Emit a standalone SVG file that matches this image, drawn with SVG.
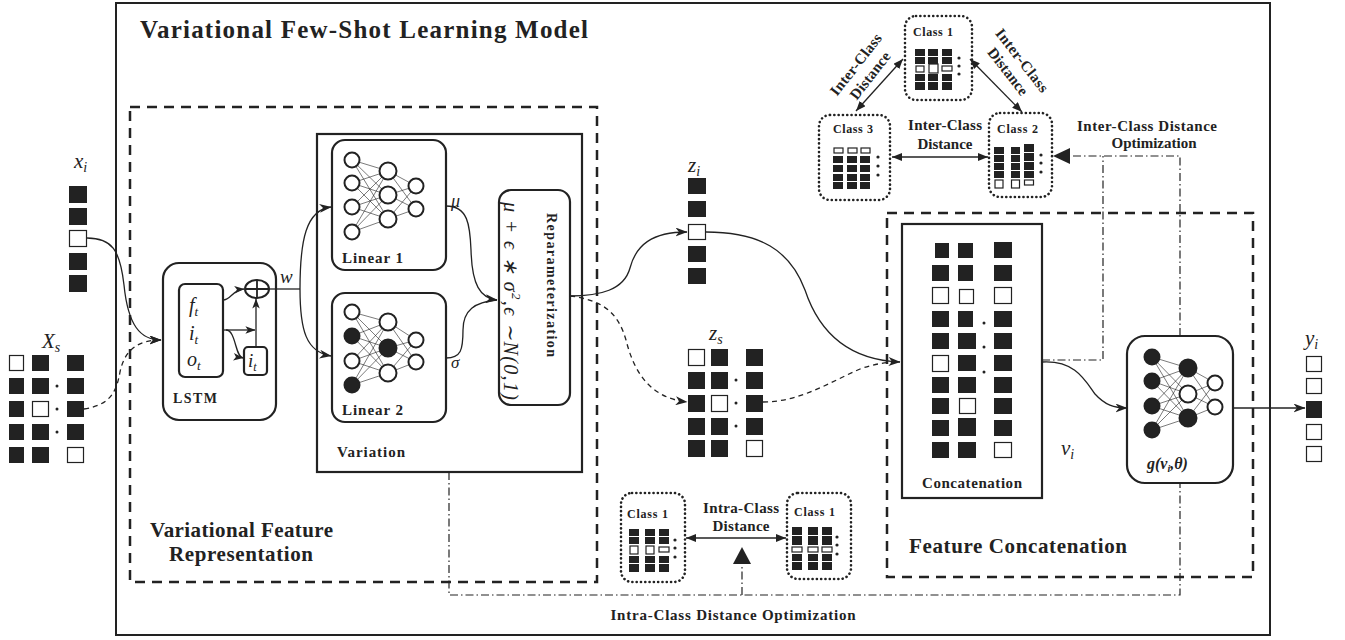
<svg xmlns="http://www.w3.org/2000/svg" width="1345" height="640" viewBox="0 0 1345 640">
<style>
.b{fill:#222}
.w{fill:#fff;stroke:#222;stroke-width:1.2}
.t{font-family:"Liberation Serif",serif;font-weight:bold;fill:#222}
.m{font-family:"Liberation Serif",serif;font-style:italic;fill:#222}
.ln{fill:none;stroke:#222;stroke-width:1.3}
.dash{fill:none;stroke:#222;stroke-width:1.3;stroke-dasharray:5 4}
.dd{fill:none;stroke:#222;stroke-width:1.2;stroke-dasharray:8 3 1.5 3}
.box{fill:#fff;stroke:#222;stroke-width:2.2}
.grp{fill:none;stroke:#222;stroke-width:2.5;stroke-dasharray:10 7}
.dot{fill:none;stroke:#222;stroke-width:2.6;stroke-dasharray:0.1 4.2;stroke-linecap:round}
.nn{fill:none;stroke:#222;stroke-width:0.6}
.no{fill:#fff;stroke:#222;stroke-width:2}
.nf{fill:#222;stroke:#222;stroke-width:2}
</style>
<defs>
<marker id="a" viewBox="0 0 12 9" refX="11.5" refY="4.5" markerWidth="12" markerHeight="9" markerUnits="userSpaceOnUse" orient="auto"><path d="M0 0L12 4.5L0 9L3.5 4.5z" fill="#222"/></marker>
<marker id="as" viewBox="0 0 12 9" refX="11.5" refY="4.5" markerWidth="10" markerHeight="8" markerUnits="userSpaceOnUse" orient="auto"><path d="M0 0L12 4.5L0 9L3 4.5z" fill="#222"/></marker>
<marker id="d" viewBox="0 0 10 8" refX="10" refY="4" markerWidth="10" markerHeight="8" markerUnits="userSpaceOnUse" orient="auto-start-reverse"><path d="M0 0L10 4L0 8z" fill="#222"/></marker>
</defs>
<rect width="1345" height="640" fill="#fff"/>

<g id="outer">
<rect x="116" y="3" width="1154" height="632" fill="none" stroke="#222" stroke-width="2"/>
<text class="t" x="140" y="38" font-size="25" textLength="448" lengthAdjust="spacing">Variational Few-Shot Learning Model</text>
</g>

<g id="vfr">
<rect class="grp" x="130" y="107" width="467" height="475"/>
<text class="t" x="150" y="537" font-size="21" textLength="183" lengthAdjust="spacing">Variational Feature</text>
<text class="t" x="169" y="561" font-size="21" textLength="144" lengthAdjust="spacing">Representation</text>
</g>

<g id="featconcat">
<rect class="grp" x="887" y="213" width="366" height="364"/>
<text class="t" x="909" y="553" font-size="21" textLength="218" lengthAdjust="spacing">Feature Concatenation</text>
</g>

<g id="variation">
<rect class="box" x="317" y="134" width="265" height="338"/>
<text class="t" x="337" y="457" font-size="15" textLength="68" lengthAdjust="spacing">Variation</text>
</g>

<g id="linear1">
<rect class="box" x="332" y="140" width="114" height="130" rx="13"/>
<path class="nn" d="M352 160L388 171M352 160L388 195M352 160L388 219M352 183L388 171M352 183L388 195M352 183L388 219M352 207L388 171M352 207L388 195M352 207L388 219M352 232L388 171M352 232L388 195M352 232L388 219M388 171L416 186M388 171L416 209M388 195L416 186M388 195L416 209M388 219L416 186M388 219L416 209"/>
<circle class="no" cx="352" cy="160" r="7.5"/><circle class="no" cx="352" cy="183" r="7.5"/><circle class="no" cx="352" cy="207" r="7.5"/><circle class="no" cx="352" cy="232" r="7.5"/>
<circle class="no" cx="388" cy="171" r="8.5"/><circle class="no" cx="388" cy="195" r="8.5"/><circle class="no" cx="388" cy="219" r="8.5"/>
<circle class="no" cx="416" cy="186" r="7.5"/><circle class="no" cx="416" cy="209" r="7.5"/>
<text class="t" x="342" y="263" font-size="15" textLength="61" lengthAdjust="spacing">Linear 1</text>
</g>

<g id="linear2">
<rect class="box" x="332" y="293" width="114" height="129" rx="13"/>
<path class="nn" d="M352 312L388 322M352 312L388 348M352 312L388 373M352 336L388 322M352 336L388 348M352 336L388 373M352 361L388 322M352 361L388 348M352 361L388 373M352 385L388 322M352 385L388 348M352 385L388 373M388 322L416 340M388 322L416 362M388 348L416 340M388 348L416 362M388 373L416 340M388 373L416 362"/>
<circle class="no" cx="352" cy="312" r="7.5"/><circle class="nf" cx="352" cy="336" r="7.5"/><circle class="no" cx="352" cy="361" r="7.5"/><circle class="nf" cx="352" cy="385" r="7.5"/>
<circle class="no" cx="388" cy="322" r="8.5"/><circle class="nf" cx="388" cy="348" r="8.5"/><circle class="no" cx="388" cy="373" r="8.5"/>
<circle class="no" cx="416" cy="340" r="7.5"/><circle class="no" cx="416" cy="362" r="7.5"/>
<text class="t" x="342" y="415" font-size="15" textLength="61" lengthAdjust="spacing">Linear 2</text>
</g>

<g id="reparam">
<rect class="box" x="499" y="190" width="71" height="215" rx="12"/>
<text class="t" transform="translate(547,213) rotate(90)" font-size="14" textLength="144" lengthAdjust="spacing">Reparameterization</text>
<text class="m" transform="translate(504,202) rotate(90)" font-size="20" font-style="normal" textLength="198" lengthAdjust="spacing"><tspan font-style="italic">μ</tspan> + <tspan font-style="italic">ϵ</tspan> ∗ <tspan font-style="italic">σ</tspan><tspan font-size="13" dy="-8">2</tspan><tspan dy="8">,</tspan><tspan font-style="italic">ϵ</tspan> ∼N(0,1)</text>
</g>

<g id="lstm">
<rect class="box" x="163" y="263" width="113" height="157" rx="16"/>
<rect class="box" x="179" y="284" width="44" height="93" rx="6"/>
<text class="m" x="189" y="312" font-size="20">f<tspan font-size="13" dy="4">t</tspan></text>
<text class="m" x="189" y="340" font-size="20">i<tspan font-size="13" dy="4">t</tspan></text>
<text class="m" x="187" y="366" font-size="20">o<tspan font-size="13" dy="4">t</tspan></text>
<ellipse cx="257" cy="289" rx="12" ry="9" fill="#fff" stroke="#222" stroke-width="2"/>
<path d="M245 289L269 289M257 280L257 298" stroke="#222" stroke-width="1.8"/>
<rect class="box" x="244" y="347" width="23" height="28" rx="4"/>
<text class="m" x="248" y="367" font-size="19">i<tspan font-size="12" dy="4">t</tspan></text>
<text class="t" x="173" y="403" font-size="14" textLength="44" lengthAdjust="spacing">LSTM</text>
</g>

<g id="xi">
<text class="m" x="74" y="168" font-size="21">x<tspan font-size="14" dy="4">i</tspan></text>
<rect class="b" x="69" y="186" width="18" height="17"/>
<rect class="b" x="69" y="208" width="18" height="17"/>
<rect class="w" x="69.5" y="230.5" width="17" height="16"/>
<rect class="b" x="69" y="253" width="18" height="17"/>
<rect class="b" x="69" y="275" width="18" height="17"/>
</g>

<g id="xs">
<text class="m" x="42" y="348" font-size="21">X<tspan font-size="14" dy="4">s</tspan></text>
<rect class="w" x="9.5" y="355.5" width="14" height="15"/><rect class="b" x="32" y="355" width="17" height="16"/><rect class="b" x="67" y="355" width="17" height="16"/>
<rect class="b" x="9" y="378" width="15" height="16"/><rect class="b" x="32" y="378" width="17" height="16"/><rect class="b" x="67" y="378" width="17" height="16"/>
<rect class="b" x="9" y="401" width="15" height="16"/><rect class="w" x="32.5" y="401.5" width="16" height="15"/><rect class="b" x="67" y="401" width="17" height="16"/>
<rect class="b" x="9" y="424" width="15" height="16"/><rect class="b" x="32" y="424" width="17" height="16"/><rect class="b" x="67" y="424" width="17" height="16"/>
<rect class="b" x="9" y="447" width="15" height="16"/><rect class="b" x="32" y="447" width="17" height="16"/><rect class="w" x="67.5" y="447.5" width="16" height="15"/>
<circle class="b" cx="57" cy="386" r="1.5"/><circle class="b" cx="57" cy="409" r="1.5"/><circle class="b" cx="57" cy="432" r="1.5"/>
</g>

<g id="zi">
<text class="m" x="688" y="172" font-size="21">z<tspan font-size="14" dy="4">i</tspan></text>
<rect class="b" x="688" y="178" width="18" height="16"/>
<rect class="b" x="688" y="201" width="18" height="16"/>
<rect class="w" x="688.5" y="224.5" width="17" height="15"/>
<rect class="b" x="688" y="246" width="18" height="16"/>
<rect class="b" x="688" y="268" width="18" height="16"/>
</g>

<g id="zs">
<text class="m" x="709" y="340" font-size="21">z<tspan font-size="14" dy="4">s</tspan></text>
<rect class="w" x="688.5" y="349.5" width="16" height="16"/><rect class="b" x="711" y="349" width="17" height="17"/><rect class="b" x="746" y="349" width="17" height="17"/>
<rect class="b" x="688" y="372" width="17" height="17"/><rect class="b" x="711" y="372" width="17" height="17"/><rect class="b" x="746" y="372" width="17" height="17"/>
<rect class="b" x="688" y="395" width="17" height="17"/><rect class="w" x="711.5" y="395.5" width="16" height="16"/><rect class="b" x="746" y="395" width="17" height="17"/>
<rect class="b" x="688" y="418" width="17" height="17"/><rect class="b" x="711" y="418" width="17" height="17"/><rect class="b" x="746" y="418" width="17" height="17"/>
<rect class="b" x="688" y="440" width="17" height="17"/><rect class="b" x="711" y="440" width="17" height="17"/><rect class="w" x="746.5" y="440.5" width="16" height="16"/>
<circle class="b" cx="736" cy="380" r="1.5"/><circle class="b" cx="736" cy="403" r="1.5"/><circle class="b" cx="736" cy="426" r="1.5"/>
</g>

<g id="concat">
<rect class="box" x="902" y="224" width="140" height="274"/>
<rect class="b" x="935" y="243" width="14" height="15"/><rect class="b" x="958" y="243" width="15" height="15"/><rect class="b" x="994" y="242" width="18" height="16"/>
<rect class="b" x="932" y="265" width="17" height="16"/><rect class="b" x="958" y="265" width="15" height="16"/><rect class="b" x="994" y="265" width="18" height="16"/>
<rect class="w" x="932.5" y="287.5" width="16" height="16"/><rect class="w" x="959.5" y="289.5" width="14" height="14"/><rect class="w" x="994.5" y="287.5" width="17" height="16"/>
<rect class="b" x="932" y="311" width="17" height="16"/><rect class="b" x="958" y="311" width="15" height="16"/><rect class="b" x="994" y="311" width="18" height="16"/>
<rect class="b" x="932" y="333" width="17" height="16"/><rect class="b" x="958" y="333" width="18" height="16"/><rect class="b" x="994" y="333" width="18" height="16"/>
<rect class="w" x="932.5" y="355.5" width="16" height="16"/><rect class="b" x="958" y="355" width="18" height="16"/><rect class="b" x="994" y="355" width="18" height="16"/>
<rect class="b" x="932" y="377" width="17" height="16"/><rect class="b" x="958" y="377" width="18" height="16"/><rect class="b" x="994" y="377" width="18" height="16"/>
<rect class="b" x="932" y="398" width="17" height="16"/><rect class="w" x="959.5" y="398.5" width="16" height="15"/><rect class="b" x="994" y="398" width="18" height="16"/>
<rect class="b" x="932" y="420" width="17" height="16"/><rect class="b" x="958" y="418" width="18" height="18"/><rect class="b" x="994" y="420" width="18" height="16"/>
<rect class="b" x="932" y="442" width="17" height="16"/><rect class="b" x="958" y="442" width="18" height="16"/><rect class="w" x="994.5" y="442.5" width="17" height="15"/>
<circle class="b" cx="984" cy="323" r="1.5"/><circle class="b" cx="984" cy="347" r="1.5"/><circle class="b" cx="984" cy="372" r="1.5"/>
<text class="t" x="922" y="488" font-size="15" textLength="100" lengthAdjust="spacing">Concatenation</text>
</g>

<g id="vi-label">
<text class="m" x="1061" y="455" font-size="21">v<tspan font-size="14" dy="4">i</tspan></text>
</g>

<g id="gnet">
<rect class="box" x="1127" y="336" width="106" height="147" rx="18"/>
<path class="nn" d="M1152 357L1188 368M1152 357L1188 394M1152 357L1188 418M1152 381L1188 368M1152 381L1188 394M1152 381L1188 418M1152 406L1188 368M1152 406L1188 394M1152 406L1188 418M1152 430L1188 368M1152 430L1188 394M1152 430L1188 418M1188 368L1215 383M1188 368L1215 407M1188 394L1215 383M1188 394L1215 407M1188 418L1215 383M1188 418L1215 407"/>
<circle class="nf" cx="1152" cy="357" r="7.5"/><circle class="nf" cx="1152" cy="381" r="7.5"/><circle class="nf" cx="1152" cy="406" r="7.5"/><circle class="nf" cx="1152" cy="430" r="7.5"/>
<circle class="nf" cx="1188" cy="368" r="8.5"/><circle class="no" cx="1188" cy="394" r="8.5"/><circle class="nf" cx="1188" cy="418" r="8.5"/>
<circle class="no" cx="1215" cy="383" r="7.5"/><circle class="no" cx="1215" cy="407" r="7.5"/>
<text class="t" x="1147" y="469" font-size="16" font-style="italic">g(v<tspan font-size="10" dy="3">i</tspan><tspan dy="-3">,θ)</tspan></text>
</g>

<g id="yi">
<text class="m" x="1305" y="345" font-size="21">y<tspan font-size="14" dy="4">i</tspan></text>
<rect class="w" x="1306.5" y="356.5" width="15" height="15"/>
<rect class="w" x="1306.5" y="378.5" width="15" height="15"/>
<rect class="b" x="1306" y="401" width="16" height="17"/>
<rect class="w" x="1306.5" y="424.5" width="15" height="15"/>
<rect class="w" x="1306.5" y="446.5" width="15" height="15"/>
</g>

<g id="class1-top">
<rect class="dot" x="905" y="16" width="67" height="84" rx="11"/>
<text class="t" x="913" y="36" font-size="12" textLength="40" lengthAdjust="spacing">Class 1</text>
<path class="b" d="M915 49h10v7h-10zM928 49h10v7h-10zM942 49h10v7h-10zM915 57h10v7h-10zM928 57h10v7h-10zM942 57h10v7h-10zM915 74h10v7h-10zM928 74h10v7h-10zM942 74h10v7h-10zM915 82h10v8h-10zM928 82h10v8h-10zM942 82h10v8h-10z"/>
<rect class="w" x="916" y="66" width="8" height="6"/><rect class="w" x="929" y="64" width="9" height="9"/><rect class="w" x="942" y="66" width="10" height="5"/>
<circle class="b" cx="959" cy="58" r="1.6"/><circle class="b" cx="959" cy="66" r="1.6"/><circle class="b" cx="959" cy="74" r="1.6"/>
</g>

<g id="class3">
<rect class="dot" x="819" y="115" width="71" height="85" rx="11"/>
<text class="t" x="833" y="133" font-size="12" textLength="40" lengthAdjust="spacing">Class 3</text>
<rect class="w" x="834" y="148" width="9" height="5"/><rect class="w" x="848" y="148" width="9" height="5"/><rect class="w" x="861" y="148" width="9" height="5"/>
<path class="b" d="M833 156h10v7h-10zM847 156h10v7h-10zM860 156h10v7h-10zM833 165h10v7h-10zM847 165h10v7h-10zM860 165h10v7h-10zM833 174h10v7h-10zM847 174h10v7h-10zM860 174h10v7h-10zM833 182h10v7h-10zM847 182h10v7h-10zM860 182h10v7h-10z"/>
<circle class="b" cx="878" cy="157" r="1.6"/><circle class="b" cx="878" cy="166" r="1.6"/><circle class="b" cx="878" cy="175" r="1.6"/>
</g>

<g id="class2">
<rect class="dot" x="989" y="113" width="63" height="84" rx="11"/>
<text class="t" x="997" y="133" font-size="12" textLength="41" lengthAdjust="spacing">Class 2</text>
<path class="b" d="M994 147h10v7h-10zM1011 147h9v7h-9zM994 155h10v7h-10zM1011 155h9v7h-9zM994 163h10v7h-10zM1011 163h9v7h-9zM994 171h10v7h-10zM1011 171h9v7h-9zM1024 144h10v8h-10zM1024 153h10v8h-10zM1024 162h10v8h-10zM1024 171h10v7h-10z"/>
<rect class="w" x="995" y="180" width="8" height="8"/><rect class="w" x="1011.5" y="180" width="8" height="8"/><rect class="w" x="1024.5" y="180" width="9" height="5"/>
<circle class="b" cx="1041" cy="155" r="1.6"/><circle class="b" cx="1041" cy="163" r="1.6"/><circle class="b" cx="1041" cy="172" r="1.6"/>
</g>

<g id="intra-class1a">
<rect class="dot" x="621" y="493" width="64" height="89" rx="11"/>
<text class="t" x="627" y="518" font-size="12" textLength="41" lengthAdjust="spacing">Class 1</text>
<path class="b" d="M629 529h10v7h-10zM645 529h10v7h-10zM659 529h10v7h-10zM629 537h10v7h-10zM645 537h10v7h-10zM659 537h10v7h-10zM629 556h10v7h-10zM645 556h10v7h-10zM659 556h10v7h-10zM629 564h10v8h-10zM645 564h10v8h-10zM659 564h10v8h-10z"/>
<rect class="w" x="630" y="546" width="8" height="8"/><rect class="w" x="646" y="546" width="8" height="8"/><rect class="w" x="659" y="547" width="10" height="5"/>
<circle class="b" cx="675" cy="540" r="1.6"/><circle class="b" cx="675" cy="548" r="1.6"/><circle class="b" cx="675" cy="557" r="1.6"/>
</g>

<g id="intra-class1b">
<rect class="dot" x="787" y="493" width="64" height="86" rx="11"/>
<text class="t" x="794" y="516" font-size="12" textLength="41" lengthAdjust="spacing">Class 1</text>
<path class="b" d="M792 527h10v8h-10zM808 527h10v8h-10zM822 527h10v8h-10zM792 536h10v9h-10zM808 536h10v9h-10zM822 536h10v9h-10zM792 554h10v7h-10zM808 554h10v7h-10zM822 554h10v7h-10zM792 562h10v8h-10zM808 562h10v8h-10zM822 562h10v8h-10z"/>
<rect class="w" x="792" y="547" width="10" height="5"/><rect class="w" x="808" y="547" width="10" height="5"/><rect class="w" x="822" y="547" width="10" height="5"/>
<circle class="b" cx="837" cy="537" r="1.6"/><circle class="b" cx="837" cy="545" r="1.6"/><circle class="b" cx="837" cy="554" r="1.6"/>
</g>

<g id="labels">
<text class="m" x="280" y="283" font-size="19">w</text>
<text class="m" x="451" y="207" font-size="18">μ</text>
<text class="m" x="451" y="368" font-size="17" font-style="normal">σ</text>
<text class="t" x="945" y="130" font-size="15" text-anchor="middle" textLength="74" lengthAdjust="spacing">Inter-Class</text>
<text class="t" x="945" y="149" font-size="15" text-anchor="middle" textLength="55" lengthAdjust="spacing">Distance</text>
<g transform="translate(863,70) rotate(-52)">
<text class="t" x="0" y="-4" font-size="15" text-anchor="middle" textLength="74" lengthAdjust="spacing">Inter-Class</text>
<text class="t" x="0" y="14" font-size="15" text-anchor="middle" textLength="56" lengthAdjust="spacing">Distance</text>
</g>
<g transform="translate(1015,66) rotate(52)">
<text class="t" x="0" y="-4" font-size="15" text-anchor="middle" textLength="76" lengthAdjust="spacing">Inter-Class</text>
<text class="t" x="0" y="14" font-size="15" text-anchor="middle" textLength="56" lengthAdjust="spacing">Distance</text>
</g>
<text class="t" x="1147" y="131" font-size="15" text-anchor="middle" textLength="140" lengthAdjust="spacing">Inter-Class Distance</text>
<text class="t" x="1154" y="148" font-size="15" text-anchor="middle" textLength="85" lengthAdjust="spacing">Optimization</text>
<text class="t" x="741" y="513" font-size="15" text-anchor="middle" textLength="76" lengthAdjust="spacing">Intra-Class</text>
<text class="t" x="741" y="531" font-size="15" text-anchor="middle" textLength="57" lengthAdjust="spacing">Distance</text>
<text class="t" x="733" y="620" font-size="15" text-anchor="middle" textLength="245" lengthAdjust="spacing">Intra-Class Distance Optimization</text>
</g>

<g id="connectors">
<path class="ln" d="M87 238C112 238 120 250 124 285C128 325 140 340 161 340" marker-end="url(#a)"/>
<path class="dash" d="M84 409C108 405 116 395 120 372C125 348 140 340 161 340" marker-end="url(#a)"/>
<path class="ln" d="M223 300C231 300 232 290 244 289" marker-end="url(#as)"/>
<path class="ln" d="M223 330L255 330" marker-end="url(#as)"/>
<path class="ln" d="M226 330C236 330 235 357 243 358" marker-end="url(#as)"/>
<path class="ln" d="M256 347L256 299" marker-end="url(#as)"/>
<path class="ln" d="M269 289L300 289"/>
<path class="ln" d="M300 289C300 240 306 210 331 207" marker-end="url(#a)"/>
<path class="ln" d="M300 289C300 330 306 352 331 356" marker-end="url(#a)"/>
<path class="ln" d="M446 206C468 206 470 225 471 250C472 285 480 298 497 300" marker-end="url(#a)"/>
<path class="ln" d="M446 358C461 358 463 350 463 330C463 310 475 302 497 300"/>
<path class="ln" d="M570 296C600 296 624 290 630 268C636 245 652 232 687 232" marker-end="url(#a)"/>
<path class="dash" d="M570 296C602 300 618 312 626 340C634 372 650 398 687 402" marker-end="url(#a)"/>
<path class="ln" d="M706 232C760 232 790 250 805 290C820 335 850 360 900 362" marker-end="url(#a)"/>
<path class="dash" d="M763 402C800 402 830 382 860 369C874 364 886 362 900 362"/>
<path class="ln" d="M1042 362C1075 360 1085 380 1095 394C1105 405 1114 408 1127 408" marker-end="url(#a)"/>
<path class="ln" d="M1233 408L1305 408" marker-end="url(#a)"/>
<path class="ln" d="M892 157L988 157" marker-start="url(#d)" marker-end="url(#d)"/>
<path class="ln" d="M903 59L856 111" marker-start="url(#d)" marker-end="url(#d)"/>
<path class="ln" d="M970 59L1022 112" marker-start="url(#d)" marker-end="url(#d)"/>
<path class="ln" d="M686 538L786 538" marker-start="url(#d)" marker-end="url(#d)"/>
<path class="dd" d="M1180 336L1180 156L1068 156"/>
<path class="dd" d="M1042 360L1103 360L1103 156"/>
<polygon points="1053,156 1070,148 1070,164" fill="#222"/>
<path class="dd" d="M449 472L449 595L1180 595L1180 483"/>
<path class="dd" d="M742 595L742 562"/>
<polygon points="742,547 733,564 751,564" fill="#222"/>
</g>
</svg>
